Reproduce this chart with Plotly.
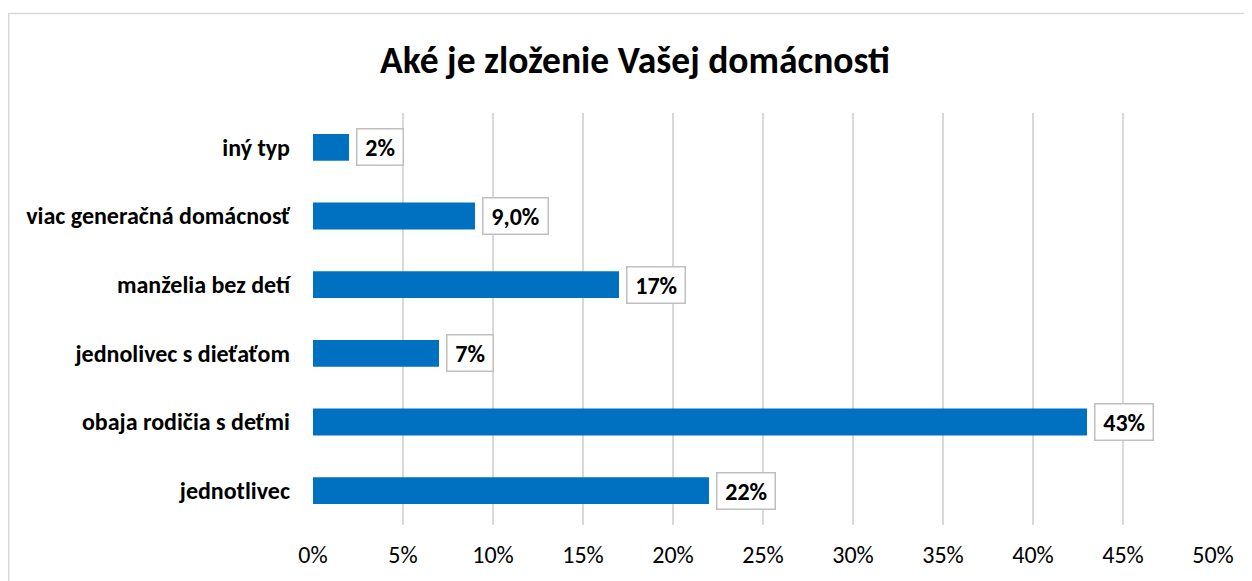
import plotly.graph_objects as go

categories = ["jednotlivec", "obaja rodičia s deťmi", "jednolivec s dieťaťom",
              "manželia bez detí", "viac generačná domácnosť", "iný typ"]
values = [22, 43, 7, 17, 9.0, 2]
labels = ["22%", "43%", "7%", "17%", "9,0%", "2%"]
tick_vals = [0, 5, 10, 15, 20, 25, 30, 35, 40, 45, 50]
tick_text = ["0%", "5%", "10%", "15%", "20%", "25%", "30%", "35%", "40%", "45%", "50%"]

FONT = "Carlito, Lato, 'Open Sans', sans-serif"

W, H = 1244, 573
L, R, T, B = 305, 39, 105, 54
PW, PH = W - L - R, H - T - B

fig = go.Figure()
fig.add_trace(go.Bar(
    x=values, y=categories, orientation="h",
    marker=dict(color="#0070C0", line=dict(width=0)),
    width=0.39, hoverinfo="skip",
))

for v, c, t in zip(values, categories, labels):
    fig.add_annotation(
        x=v, y=c, xref="x", yref="y", text="\u2009" + t + "\u2009", showarrow=False,
        xanchor="left", yanchor="middle", xshift=7,
        font=dict(family=FONT, size=24, color="#000000", weight="bold"),
        bgcolor="#ffffff", bordercolor="#bfbfbf", borderwidth=1.5, borderpad=3,
    )

fig.add_shape(type="rect", xref="paper", yref="paper",
              x0=(0.75 - L) / PW, x1=(1242 - L) / PW,
              y0=-0.5, y1=(H - B - 5) / PH,
              line=dict(color="#d9d9d9", width=1.5), fillcolor="rgba(0,0,0,0)",
              layer="below")

fig.update_layout(
    width=W, height=H,
    margin=dict(l=L, r=R, t=T, b=B),
    paper_bgcolor="#ffffff", plot_bgcolor="#ffffff",
    showlegend=False,
    bargap=0.61,
    title=dict(text="<b>Aké je zloženie Vašej domácnosti</b>",
               x=627 / W, xanchor="center", y=1 - 52 / H, yanchor="middle",
               font=dict(family=FONT, size=37.5, color="#000000")),
    xaxis=dict(range=[0, 50], tickvals=tick_vals, ticktext=tick_text,
               showgrid=True, gridcolor="#d9d9d9", gridwidth=1.5,
               zeroline=False, showline=False, ticks="",
               ticklabelstandoff=13,
               tickfont=dict(family=FONT, size=24, color="#000000")),
    yaxis=dict(categoryorder="array", categoryarray=categories,
               showgrid=False, zeroline=False, showline=False, ticks="",
               ticklabelstandoff=22,
               tickfont=dict(family=FONT, size=24, color="#000000", weight="bold")),
)

fig.write_html("out.html")
